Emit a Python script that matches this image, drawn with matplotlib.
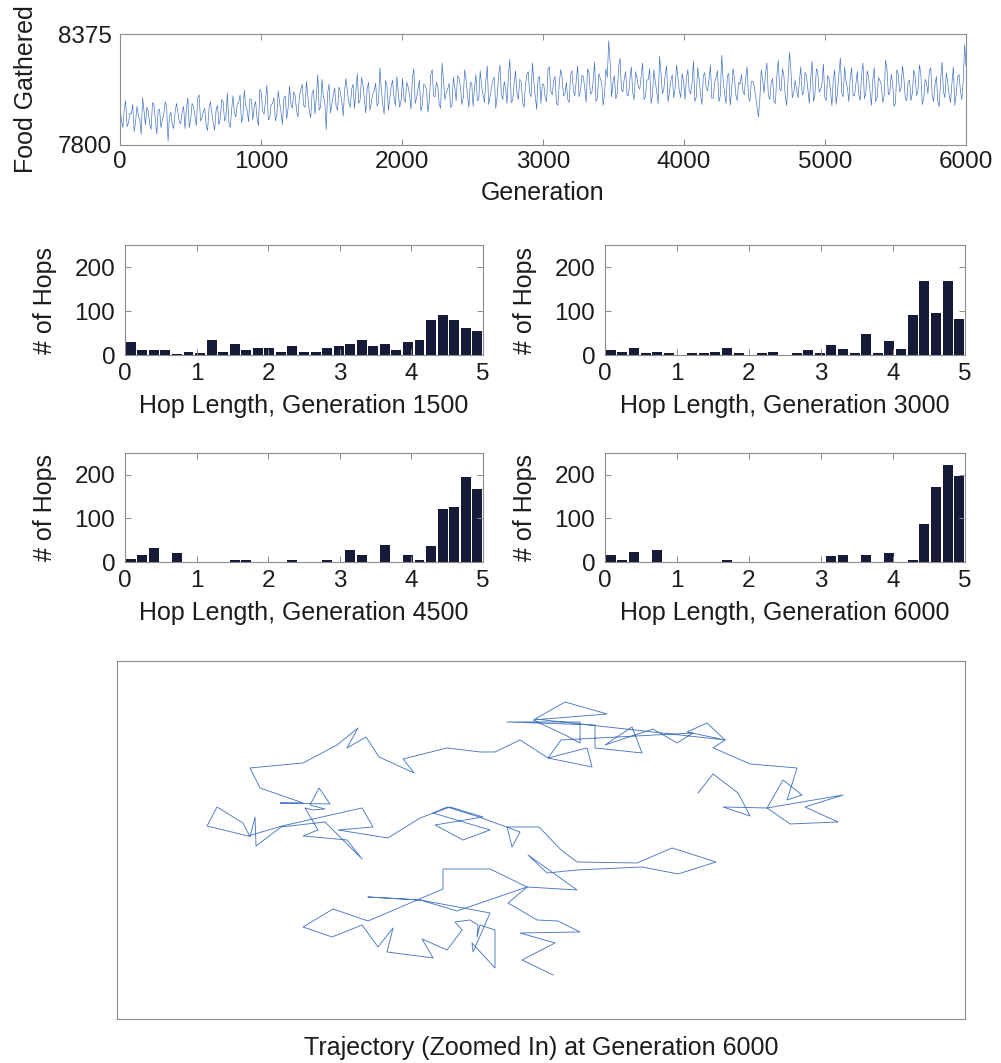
import numpy as np
import matplotlib.pyplot as plt

plt.rcParams['font.family'] = ['Liberation Sans', 'DejaVu Sans']

# food gathered, readings at generations 0, 20, 40, ...
food_even = [
    7995, 7890, 8030, 7915, 7960, 7870, 8000, 7930, 8045, 7905, 7975, 7880, 8010, 7855, 7985, 7935, 8025, 7820, 7970, 7885,
    8015, 7920, 7975, 7885, 8045, 7930, 8000, 7900, 8060, 7940, 7990, 7875, 8025, 7915, 7980, 7905, 8035, 7925, 8070, 7890,
    8055, 7945, 8020, 7915, 8085, 7980, 8040, 7930, 8025, 7900, 8070, 7960, 8110, 7940, 8015, 7925, 8080, 7970, 8045, 7935,
    8105, 7990, 8055, 7945, 8090, 8005, 8130, 7975, 8070, 7960, 8165, 7995, 8050, 7880, 8115, 8010, 8095, 7980, 8075, 7950,
    8145, 8020, 8090, 7990, 8170, 8035, 8110, 7965, 8125, 8025, 8080, 8000, 8200, 8010, 8135, 7980, 8105, 8040, 8155, 7995,
    8145, 8020, 8100, 7985, 8195, 8045, 8135, 8005, 8110, 7970, 8165, 8055, 8125, 8010, 8225, 8035, 8090, 7995, 8150, 8030,
    8145, 8010, 8190, 8055, 8125, 8000, 8165, 8035, 8105, 8020, 8210, 8050, 8140, 7990, 8155, 8065, 8130, 8015, 8245, 8030,
    8185, 8035, 8130, 7995, 8165, 8070, 8225, 8050, 8150, 8015, 8115, 8025, 8205, 8060, 8155, 8005, 8190, 8055, 8125, 8020,
    8185, 8055, 8210, 8080, 8155, 8020, 8175, 8070, 8230, 8040, 8145, 8005, 8195, 8340, 8050, 8160, 8065, 8250, 8075, 8180,
    8060, 8205, 8035, 8150, 8090, 8225, 8050, 8140, 8015, 8190, 8075, 8260, 8065, 8165, 8025, 8135, 8045, 8215, 8080, 8170,
    8035, 8190, 8065, 8235, 8050, 8140, 8010, 8175, 8080, 8215, 8045, 8150, 8025, 8265, 8070, 8160, 8005, 8195, 8060, 8125,
    8165, 8060, 8205, 8025, 8130, 8050, 7945, 8190, 8070, 8225, 8035, 8145, 8015, 8240, 8080, 8160, 8005, 8280, 8045, 8135,
    8045, 8205, 8070, 8160, 8015, 8235, 8060, 8175, 8085, 8220, 8030, 8145, 8005, 8190, 8075, 8250, 8050, 8130, 8025, 8200,
    8055, 8180, 8030, 8225, 8070, 8150, 8005, 8200, 8045, 8135, 8020, 8240, 8060, 8165, 8000, 8190, 8075, 8210, 8040, 8130,
    8030, 8190, 8055, 8215, 8010, 8140, 8065, 8200, 8025, 8155, 8000, 8230, 8045, 8125, 8020, 8205, 8060, 8165, 8035, 8320,
]
# ... and at generations 10, 30, 50, ...
food_odd = [
    7930, 7985, 7895, 7965, 8010, 7920, 7955, 7855, 7975, 7995, 7910, 8020, 7935, 7980, 7890, 7960, 8000, 7945, 7905, 7970,
    7970, 7910, 8000, 7985, 7890, 8015, 7950, 8045, 7925, 7975, 7900, 7990, 7965, 7875, 8005, 7935, 8025, 7945, 7920, 7980,
    7965, 8015, 8060, 7950, 8005, 7920, 8035, 8000, 7940, 8090, 7975, 8030, 7930, 8010, 8045, 7955, 8020, 7905, 8055, 7990,
    8010, 8075, 7975, 8050, 8115, 7995, 8055, 7940, 8085, 8045, 7980, 8140, 8020, 8070, 7965, 8060, 8000, 8100, 8025, 8080,
    8075, 7995, 8115, 8080, 8015, 8150, 8035, 8095, 7980, 8065, 8120, 8020, 8085, 7960, 8105, 8045, 8135, 8005, 8070, 8030,
    8040, 8125, 8060, 8150, 8015, 8095, 7975, 8115, 8085, 8030, 8190, 8050, 8105, 7990, 8135, 8070, 8120, 8005, 8100, 8160,
    8105, 8045, 8140, 7995, 8120, 8100, 8030, 8185, 8060, 8130, 8010, 8095, 8150, 8050, 8215, 8035, 8090, 8165, 8020, 8115,
    8070, 8140, 8025, 8105, 8180, 8050, 8125, 7985, 8155, 8115, 8045, 8190, 8080, 8135, 8015, 8120, 8150, 8065, 8035, 8165,
    8080, 8135, 8050, 8160, 8095, 8195, 8065, 8130, 8025, 8170, 8120, 8060, 8150, 8230, 8125, 8040, 8200, 8090, 8145, 8055,
    8140, 8070, 8180, 8100, 8155, 8035, 8135, 8195, 8060, 8125, 8015, 8170, 8090, 8210, 8075, 8165, 8095, 8150, 8045, 8130,
    8145, 8080, 8120, 8025, 8200, 8065, 8160, 8095, 8140, 8040, 8125, 8185, 8055, 8135, 8015, 8170, 8085, 8150, 8030, 8115,
    8080, 8150, 8045, 8130, 8105, 8000, 8040, 8135, 8170, 8060, 8120, 8025, 8155, 8090, 8195, 8050, 8140, 8185, 8070, 8085,
    8130, 8060, 8175, 8090, 8145, 8025, 8195, 8075, 8120, 8045, 8160, 8085, 8140, 8010, 8170, 8065, 8205, 8095, 8150, 8055,
    8120, 8065, 8160, 8040, 8185, 8080, 8140, 8025, 8150, 8110, 8055, 8195, 8070, 8125, 8015, 8165, 8095, 8145, 8030, 8135,
    8070, 8150, 8085, 8165, 8040, 8125, 8185, 8055, 8110, 8025, 8140, 8075, 8175, 8060, 8120, 8005, 8155, 8080, 8135, 8205,
]

# hop length histograms, 31 bins over 0..5
hist_gens = [1500, 3000, 4500, 6000]
hops_1500 = [30, 12, 12, 12, 3, 8, 5, 35, 8, 25, 12, 17, 17, 8, 20, 8, 8, 17, 20, 25,
             35, 20, 25, 12, 30, 35, 80, 90, 80, 62, 55]
hops_3000 = [12, 8, 17, 5, 8, 4, 0, 4, 4, 8, 17, 5, 0, 4, 8, 0, 4, 12, 5, 22,
             13, 4, 48, 4, 32, 13, 90, 168, 95, 168, 82]
hops_4500 = [8, 17, 32, 0, 21, 0, 0, 0, 0, 4, 4, 0, 0, 0, 4, 0, 0, 4, 0, 27,
             17, 0, 40, 0, 17, 4, 36, 122, 127, 195, 168]
hops_6000 = [17, 4, 22, 0, 28, 0, 0, 0, 0, 0, 4, 0, 0, 0, 0, 0, 0, 0, 0, 13,
             17, 0, 17, 0, 20, 0, 4, 87, 173, 222, 198]

# agent path at generation 6000 (zoomed in)
traj_x = [581, 596, 621, 633, 606, 650, 673, 721, 688, 726, 650, 666, 685, 670, 680, 633, 601, 596, 608, 590,
          570, 608, 418, 448, 490, 416, 448, 463, 463, 390, 478, 478, 525, 515, 488, 536, 560, 576, 444, 431,
          470, 475, 431, 403, 378, 363, 330, 286, 297, 262, 249, 230, 241, 220, 186, 133, 143, 186, 163, 213,
          202, 193, 208, 196, 188, 201, 186, 230, 245, 208, 164, 139, 138, 133, 126, 100, 90, 131, 165, 245,
          256, 221, 271, 303, 333, 366, 318, 346, 373, 316, 330, 362, 403, 395, 390, 422, 444, 460, 520, 555,
          599, 561, 525, 460, 430, 411, 460, 410, 373, 326, 326, 251, 216, 186, 215, 245, 261, 276, 270, 316,
          305, 330, 345, 338, 353, 361, 360, 363, 378, 378, 355, 356, 373, 303, 251, 303, 340, 410, 391, 420,
          441, 463, 403, 438, 405, 436]
traj_y = [226, 245, 226, 203, 212, 211, 195, 197, 212, 224, 211, 239, 224, 219, 251, 255, 269, 271, 279, 296,
          287, 279, 300, 317, 305, 299, 284, 276, 297, 297, 294, 271, 266, 292, 274, 290, 276, 286, 279, 261,
          271, 252, 261, 279, 267, 267, 271, 260, 246, 262, 282, 271, 291, 274, 256, 251, 231, 216, 216, 215,
          231, 214, 210, 209, 211, 189, 183, 179, 160, 197, 192, 173, 202, 182, 196, 212, 193, 183, 193, 211,
          192, 189, 181, 201, 212, 202, 194, 179, 189, 206, 212, 202, 187, 172, 192, 192, 169, 157, 156, 171,
          157, 145, 152, 149, 146, 164, 129, 132, 150, 150, 130, 98, 110, 92, 82, 94, 72, 91, 67, 61,
          80, 69, 89, 97, 99, 94, 82, 94, 89, 51, 76, 67, 106, 119, 122, 119, 108, 132, 116, 99,
          98, 87, 86, 76, 59, 44]

text_col = '#1c1c1c'
frame_col = '#8c8c8c'
bar_col = '#141a38'
line_col = '#3a6bc0'
tick_fs = 17.5
label_fs = 18


def style_axes(ax, xpad=4, ypad=6.5):
    for s in ax.spines.values():
        s.set_color(frame_col)
        s.set_linewidth(0.8)
    ax.tick_params(direction='in', length=4, width=0.7, color=frame_col,
                   top=True, right=True, labelsize=tick_fs, labelcolor=text_col)
    ax.tick_params(axis='x', pad=xpad)
    ax.tick_params(axis='y', pad=ypad)


fig = plt.figure(figsize=(10.01, 10.63), dpi=100)

# food gathered over generations
food = np.empty(len(food_even) + len(food_odd))
food[0::2] = food_even
food[1::2] = food_odd
gens = np.linspace(0, 6000, len(food))

ax = fig.add_axes([0.1199, 0.8636, 0.8452, 0.1044])
ax.plot(gens, food, color=line_col, lw=0.45)
ax.set_xlim(0, 6000)
ax.set_ylim(7800, 8375)
ax.set_xticks(range(0, 6001, 1000))
ax.set_yticks([7800, 8375])
style_axes(ax, xpad=4, ypad=6)
ax.set_xlabel('Generation', fontsize=label_fs, color=text_col, labelpad=6)
ax.set_ylabel('Food Gathered', fontsize=label_fs, color=text_col, labelpad=14)

# hop length histograms
nbins = len(hops_1500)
bw = 5 / nbins
centers = (np.arange(nbins) + 0.5) * bw
positions = [[0.1249, 0.6660, 0.3576, 0.1035],
             [0.6044, 0.6660, 0.3596, 0.1035],
             [0.1249, 0.4713, 0.3576, 0.1025],
             [0.6044, 0.4713, 0.3596, 0.1025]]
for pos, g, counts in zip(positions, hist_gens, [hops_1500, hops_3000, hops_4500, hops_6000]):
    ax = fig.add_axes(pos)
    ax.bar(centers, counts, width=bw * 0.86, color=bar_col, edgecolor='none')
    ax.set_xlim(0, 5)
    ax.set_ylim(0, 250)
    ax.set_xticks(range(6))
    ax.set_yticks([0, 100, 200])
    style_axes(ax, xpad=6, ypad=7)
    ax.set_xlabel('Hop Length, Generation %d' % g, fontsize=label_fs, color=text_col, labelpad=6)
    ax.set_ylabel('# of Hops', fontsize=label_fs, color=text_col, labelpad=12.5)

# trajectory
ax = fig.add_axes([0.1169, 0.0414, 0.8472, 0.3368])
ax.plot(traj_x, traj_y, color='#4a78c2', lw=0.65)
ax.set_xlim(0, 848)
ax.set_ylim(0, 358)
ax.set_xticks([])
ax.set_yticks([])
ax.set_xlabel('Trajectory (Zoomed In) at Generation 6000', fontsize=label_fs,
              color=text_col, labelpad=12)
for s in ax.spines.values():
    s.set_color(frame_col)
    s.set_linewidth(0.8)

fig.savefig('out.png', dpi=100)
